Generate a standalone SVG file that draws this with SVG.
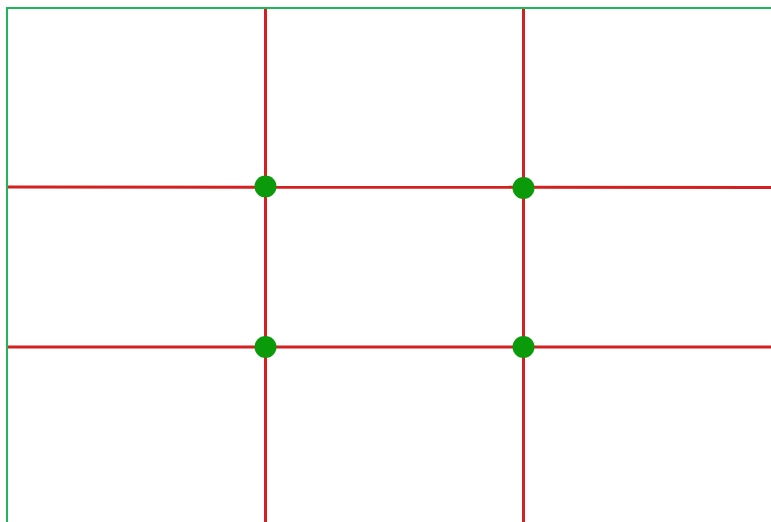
<svg xmlns="http://www.w3.org/2000/svg" width="771" height="522" viewBox="0 0 771 522">
<style>
.grid{stroke:#d42020;stroke-width:3;fill:none}
.border{stroke:#1db858;stroke-width:2;fill:none}
.pt{fill:#0a9a0a}
</style>
<rect x="0" y="0" width="771" height="522" fill="#ffffff"/>
<g id="connectors">
<path class="border" d="M7,522 V8 H771"/>
<line class="grid" x1="265.5" y1="9" x2="265.5" y2="522"/>
<line class="grid" x1="523.5" y1="9" x2="523.5" y2="522"/>
<line class="grid" x1="8" y1="187" x2="771" y2="187.5"/>
<line class="grid" x1="8" y1="347" x2="771" y2="347"/>
</g>
<g id="p1"><circle class="pt" cx="265.5" cy="186.5" r="11"/></g>
<g id="p2"><circle class="pt" cx="523.5" cy="188" r="11"/></g>
<g id="p3"><circle class="pt" cx="265.5" cy="347" r="11"/></g>
<g id="p4"><circle class="pt" cx="523.5" cy="347" r="11"/></g>
</svg>
